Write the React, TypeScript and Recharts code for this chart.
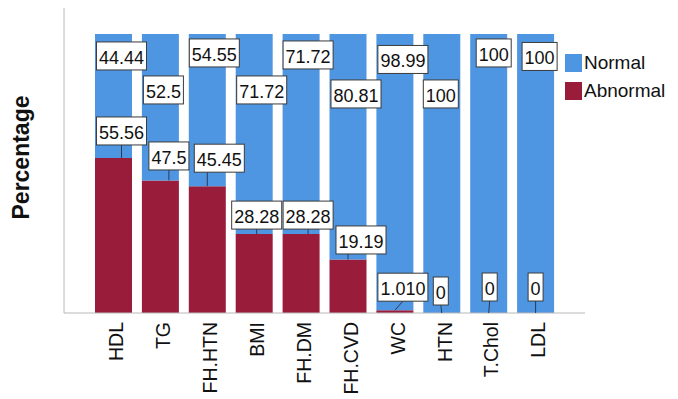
import { BarChart, Bar, XAxis, YAxis, LabelList } from 'recharts';

const categories = ['HDL', 'TG', 'FH.HTN', 'BMI', 'FH.DM', 'FH.CVD', 'WC', 'HTN', 'T.Chol', 'LDL'];
const normalValues = [44.44, 52.5, 54.55, 71.72, 71.72, 80.81, 98.99, 100, 100, 100];
const abnormalValues = [55.56, 47.5, 45.45, 28.28, 28.28, 19.19, 1.01, 0, 0, 0];
const normalLabels = ['44.44', '52.5', '54.55', '71.72', '71.72', '80.81', '98.99', '100', '100', '100'];
const abnormalLabels = ['55.56', '47.5', '45.45', '28.28', '28.28', '19.19', '1.010', '0', '0', '0'];

const BLUE = '#4f96e2';
const RED = '#9a1c3b';
const FONT = '"Liberation Sans", Arial, sans-serif';

const legendItems = [
  { name: 'Normal', color: BLUE },
  { name: 'Abnormal', color: RED },
];

const data = categories.map((name, i) => ({
  name,
  Abnormal: abnormalValues[i],
  Normal: normalValues[i],
}));

// label box centre, relative to bar centre (dx) and to the segment top (dy)
// SPSS staggers these so the boxes don't collide
const normalLabelOffsets = [[8, 22], [3, 56], [7, 19], [7.5, 56], [7, 21], [8, 60], [8, 25.5], [-1, 60], [5, 19], [4, 22.5]];
const abnormalLabelOffsets = [[8, -27], [8.5, -24.5], [12, -28], [2.5, -19], [7, -19], [13, -19.5], [8, -23], [-1, -22], [1, -26], [0, -26]];

const LABEL_FS = 18;
const BOX_H = 28;

const textWidth = (s: string) =>
  s.split('').reduce((w, c) => w + (c === '.' ? 0.278 : 0.556), 0) * LABEL_FS;

function LabelBox({ cx, cy, text }: { cx: number; cy: number; text: string }) {
  const w = textWidth(text) + 5;
  return (
    <g>
      <rect x={cx - w / 2} y={cy - BOX_H / 2} width={w} height={BOX_H} fill="#fff" stroke="#3a3a3a" strokeWidth={1} />
      <text x={cx} y={cy} dy="0.43em" textAnchor="middle" fontSize={LABEL_FS} fontFamily={FONT} fill="#111">
        {text}
      </text>
    </g>
  );
}

// both label sets hang off the Normal bar so they are painted above every rect
const renderNormalLabel = (props: any) => {
  const { x, y, width, index } = props;
  const [dx, dy] = normalLabelOffsets[index];
  return <LabelBox key={'n' + index} cx={x + width / 2 + dx} cy={y + dy} text={normalLabels[index]} />;
};

const renderAbnormalLabel = (props: any) => {
  const { x, y, width, height, index } = props;
  const [dx, dy] = abnormalLabelOffsets[index];
  const barCx = x + width / 2;
  const segTop = y + height;
  const cx = barCx + dx;
  const cy = segTop + dy;
  const x1 = Math.abs(dx) > 10 ? barCx : cx;
  const x2 = abnormalValues[index] < 2 ? barCx : x1;
  return (
    <g key={'a' + index}>
      <line x1={x1} y1={cy + BOX_H / 2} x2={x2} y2={segTop} stroke="#2a3a55" strokeWidth={1} />
      <LabelBox cx={cx} cy={cy} text={abnormalLabels[index]} />
    </g>
  );
};

const XTick = (props: any) => {
  const { x, y, payload } = props;
  return (
    <text
      transform={`translate(${x},${y + 9}) rotate(-90)`}
      textAnchor="end"
      dy="0.5em"
      fontSize={19.5}
      fontFamily={FONT}
      fill="#111"
    >
      {payload.value}
    </text>
  );
};

const YTitle = () => (
  <text
    transform="translate(23,157.5) rotate(-90)"
    textAnchor="middle"
    dy="0.25em"
    fontSize={23}
    fontWeight="bold"
    fontFamily={FONT}
    fill="#111"
  >
    Percentage
  </text>
);

export default function App() {
  return (
    <div style={{ position: 'relative', width: 678, height: 399, background: '#fff' }}>
      <style>{'body{margin:0}'}</style>
      <BarChart width={678} height={399} data={data} margin={{ top: 8, right: 93, left: 0, bottom: 0 }} barSize={37}>
        <XAxis
          dataKey="name"
          height={86}
          tickLine={false}
          tickSize={0}
          tickMargin={0}
          tick={<XTick />}
          interval={0}
          padding={{ left: 26, right: 26 }}
          axisLine={{ stroke: '#b8b8b8' }}
        />
        <YAxis
          width={64}
          domain={[0, 109.3]}
          tick={false}
          tickLine={false}
          axisLine={{ stroke: '#b8b8b8' }}
          label={{ value: 'Percentage', content: <YTitle /> }}
        />
        <Bar dataKey="Abnormal" stackId="s" fill={RED} isAnimationActive={false} />
        <Bar dataKey="Normal" stackId="s" fill={BLUE} isAnimationActive={false}>
          <LabelList dataKey="Normal" content={renderNormalLabel} />
          <LabelList dataKey="Abnormal" content={renderAbnormalLabel} />
        </Bar>
      </BarChart>
      <div style={{ position: 'absolute', left: 565, top: 49, fontFamily: FONT, fontSize: 19, color: '#111' }}>
        {legendItems.map((item) => (
          <div key={item.name} style={{ display: 'flex', alignItems: 'center', height: 28 }}>
            <span style={{ display: 'inline-block', width: 17, height: 18, background: item.color, marginRight: 2 }} />
            <span style={{ lineHeight: '18px' }}>{item.name}</span>
          </div>
        ))}
      </div>
    </div>
  );
}
